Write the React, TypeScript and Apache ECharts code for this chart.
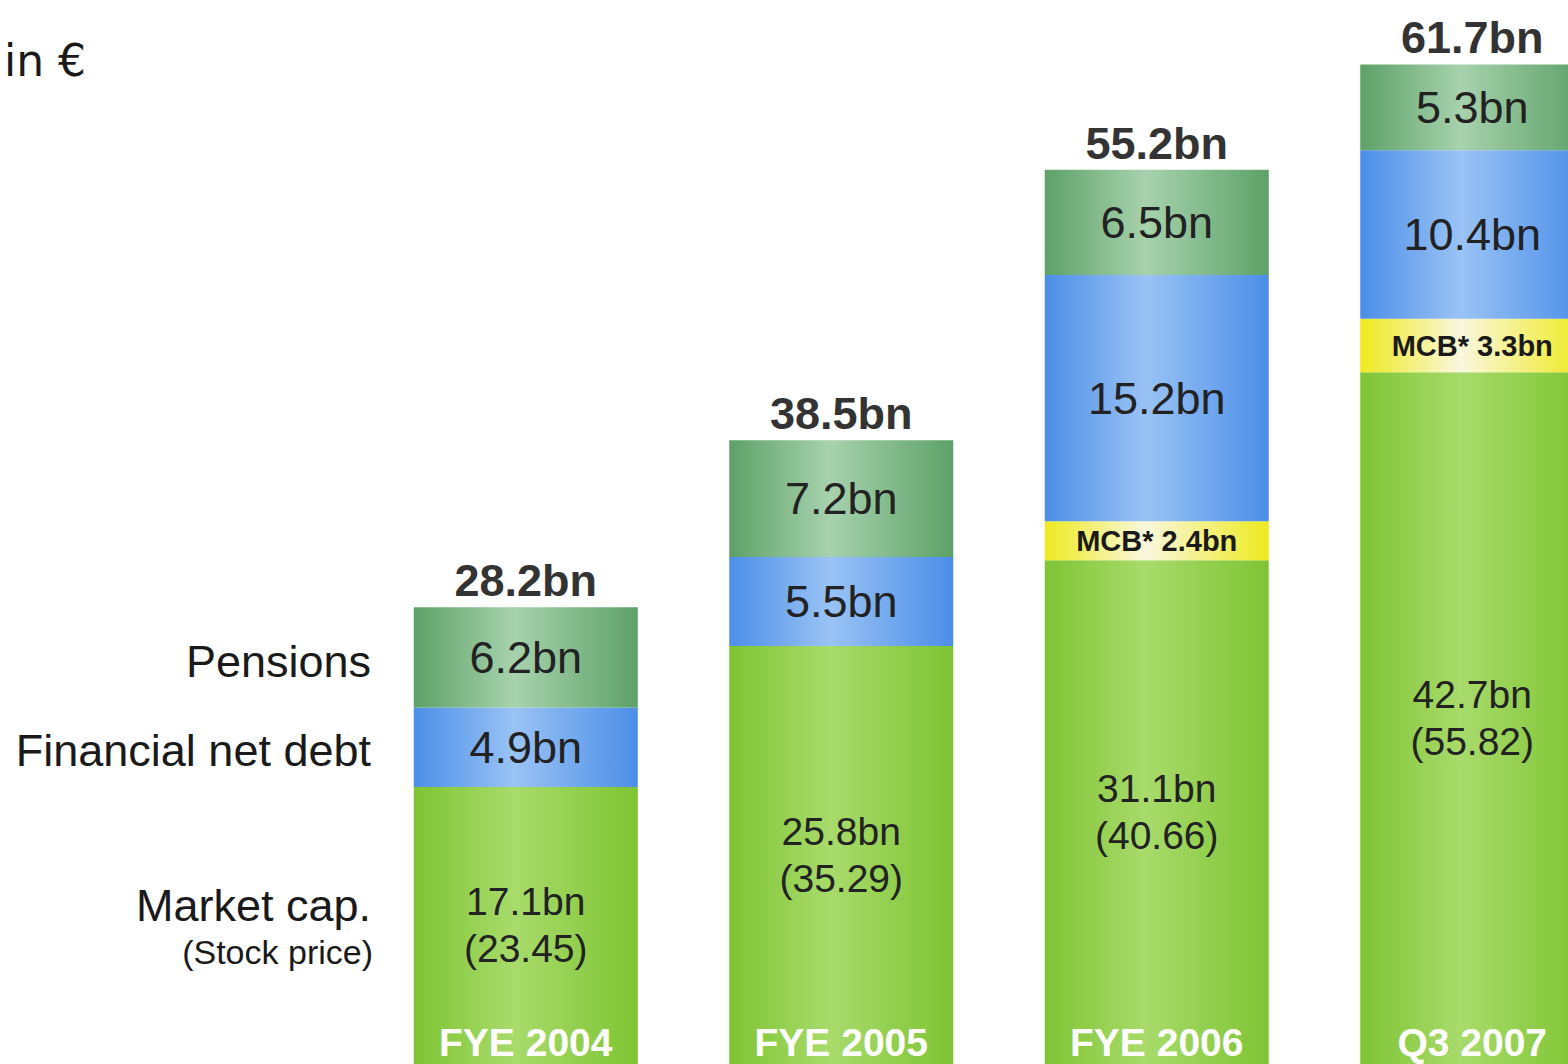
import React, { useEffect, useRef } from "react";
import * as echarts from "echarts";

const categories = ["FYE 2004", "FYE 2005", "FYE 2006", "Q3 2007"];
const marketCap = [17.1, 25.8, 31.1, 42.7];
const stockPrice = ["23.45", "35.29", "40.66", "55.82"];
const mcb: (number | null)[] = [null, null, 2.4, 3.3];
const netDebt = [4.9, 5.5, 15.2, 10.4];
const pensions = [6.2, 7.2, 6.5, 5.3];
const totals = ["28.2", "38.5", "55.2", "61.7"];

const FONT = "'Liberation Sans', Arial, sans-serif";

function grad(edge: string, mid: string) {
  return {
    type: "linear",
    x: 0,
    y: 0,
    x2: 1,
    y2: 0,
    colorStops: [
      { offset: 0, color: edge },
      { offset: 0.45, color: mid },
      { offset: 1, color: edge },
    ],
  };
}

function leftText(text: string, x: number, y: number, size: number) {
  return {
    type: "text",
    x,
    y,
    style: {
      text,
      font: `${size}px ${FONT}`,
      fill: "#1a1a1a",
      textAlign: "right",
      textVerticalAlign: "middle",
      align: "right",
      verticalAlign: "middle",
    },
  };
}

export default function App() {
  const ref = useRef<HTMLDivElement>(null);
  useEffect(() => {
    if (!ref.current) return;
    const chart = echarts.init(ref.current, null, { renderer: "svg" });
    const bw = 224;
    chart.setOption({
      animation: false,
      backgroundColor: "#ffffff",
      grid: { left: 368, right: 0, top: 27.2, bottom: 0, containLabel: false },
      xAxis: {
        type: "category",
        data: categories,
        z: 10,
        axisLine: { show: false },
        axisTick: { show: false },
        splitLine: { show: false },
        axisLabel: {
          inside: true,
          margin: 2,
          color: "#ffffff",
          fontFamily: FONT,
          fontWeight: "bold",
          fontSize: 39,
        },
      },
      yAxis: {
        type: "value",
        min: 0,
        max: 64,
        show: false,
        splitLine: { show: false },
      },
      series: [
        {
          name: "Market cap.",
          type: "bar",
          stack: "a",
          barWidth: bw,
          data: marketCap,
          itemStyle: { color: grad("#7fc433", "#a8db6b") },
          label: {
            show: true,
            position: "inside",
            fontFamily: FONT,
            fontSize: 39,
            lineHeight: 47,
            color: "#222222",
            formatter: (p: any) => `${p.value}bn\n(${stockPrice[p.dataIndex]})`,
          },
        },
        {
          name: "MCB",
          type: "bar",
          stack: "a",
          barWidth: bw,
          data: mcb,
          itemStyle: { color: grad("#eeea1e", "#faf7de") },
          label: {
            show: true,
            position: "inside",
            fontFamily: FONT,
            fontSize: 29,
            fontWeight: "bold",
            color: "#1a1a1a",
            formatter: (p: any) => `MCB* ${p.value}bn`,
          },
        },
        {
          name: "Financial net debt",
          type: "bar",
          stack: "a",
          barWidth: bw,
          data: netDebt,
          itemStyle: { color: grad("#4b8ee8", "#9ac3f5") },
          label: {
            show: true,
            position: "inside",
            fontFamily: FONT,
            fontSize: 45,
            color: "#222222",
            formatter: (p: any) => `${p.value}bn`,
          },
        },
        {
          name: "Pensions",
          type: "bar",
          stack: "a",
          barWidth: bw,
          data: pensions,
          itemStyle: { color: grad("#5da168", "#a7d2ad") },
          label: {
            show: true,
            position: "inside",
            fontFamily: FONT,
            fontSize: 45,
            color: "#222222",
            formatter: (p: any) => `${p.value}bn`,
          },
        },
        {
          name: "Total",
          type: "bar",
          stack: "a",
          barWidth: bw,
          data: totals.map(() => 0),
          itemStyle: { color: "transparent" },
          label: {
            show: true,
            position: "top",
            distance: 4,
            fontFamily: FONT,
            fontSize: 45,
            fontWeight: "bold",
            color: "#333333",
            formatter: (p: any) => `${totals[p.dataIndex]}bn`,
          },
        },
      ],
      graphic: [
        {
          type: "text",
          x: 4,
          y: 60,
          style: {
            text: "in €",
            font: "44px 'DejaVu Sans', sans-serif",
            fill: "#1a1a1a",
            textAlign: "left",
            textVerticalAlign: "middle",
            align: "left",
            verticalAlign: "middle",
          },
        },
        leftText("Pensions", 371, 661, 45),
        leftText("Financial net debt", 371, 750, 45),
        leftText("Market cap.", 371, 905, 45),
        leftText("(Stock price)", 373, 952, 34),
      ],
    });
    return () => chart.dispose();
  }, []);
  return (
    <div
      style={{
        position: "fixed",
        left: 0,
        top: 0,
        width: 1568,
        height: 1064,
        overflow: "hidden",
        background: "#ffffff",
      }}
    >
      <div ref={ref} style={{ width: 1630, height: 1064 }} />
    </div>
  );
}
